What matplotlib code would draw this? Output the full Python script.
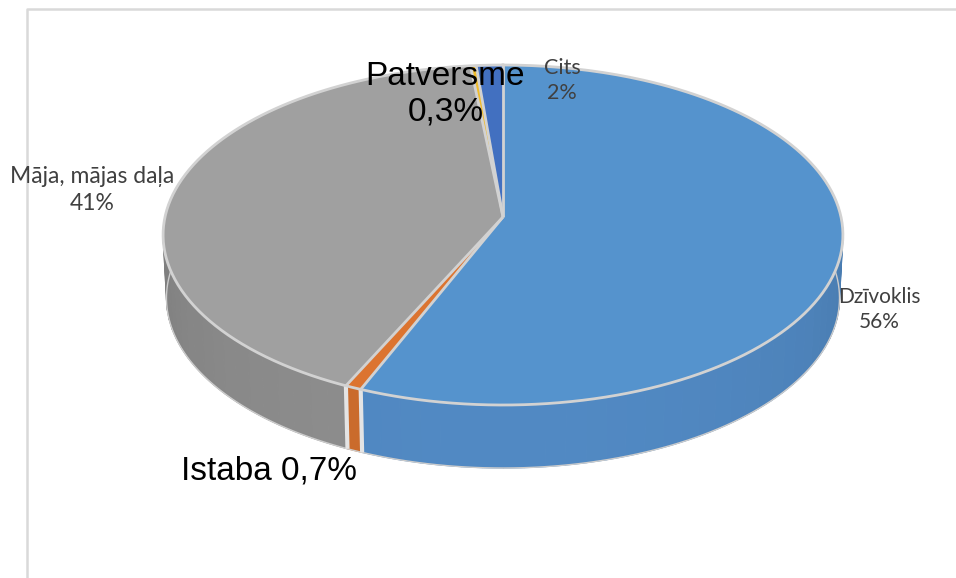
import numpy as np
import matplotlib
matplotlib.use('Agg')
import matplotlib.pyplot as plt
import matplotlib.colors as mcolors

# slices clockwise from 12 o'clock
categories = ['Dzīvoklis', 'Istaba', 'Māja, mājas daļa', 'Patversme', 'Cits']
values = [56.2, 0.7, 41.4, 0.3, 1.4]
top_colors = ['#5593cd', '#dc7430', '#a0a0a0', '#efbb2c', '#4270c0']
wall_colors = ['#5189c3', '#cc6c2c', '#8e8e8e', '#d8a828', '#3c66b0']
label_texts = ['Dzīvoklis\n56%', 'Istaba 0,7%', 'Māja, mājas daļa\n41%', 'Patversme\n0,3%', 'Cits\n2%']

cx, cy = 503, 217
R = 338
A = 168.1
K = -0.1059
DEPTH = 63


def project(theta):
    # circle on the ground plane seen in perspective, theta clockwise from top
    X = np.sin(theta)
    Y = -np.cos(theta)
    d = 1 + K * Y
    return cx + R * X / d, cy + A * Y / d


def project_low(theta):
    x, y = project(theta)
    return cx + (x - cx) * 0.99, y + DEPTH


def shade(color, theta):
    # walls get darker towards the left and right sides
    rgb = np.array(mcolors.to_rgb(color))
    f = 0.89 + 0.11 * abs(np.cos(theta))
    return tuple(np.clip(rgb * f, 0, 1))


fig, ax = plt.subplots(figsize=(9.56, 5.78), dpi=100)
ax.set_position([0, 0, 1, 1])
ax.set_xlim(0, 956)
ax.set_ylim(578, 0)
ax.axis('off')

# chart frame, runs off the right and bottom of the picture
ax.plot([27, 27, 956], [578, 9, 9], color='#d9d9d9', lw=1.8)

fractions = np.cumsum([0] + values) / np.sum(values)
edges = fractions * 2 * np.pi
side = np.radians(84)

# side walls, only the front half shows
for i in range(len(values)):
    a0 = max(edges[i], side)
    a1 = min(edges[i + 1], 2 * np.pi - side)
    if a1 <= a0:
        continue
    n = max(1, int((a1 - a0) / 0.055))
    steps = np.linspace(a0, a1, n + 1)
    for j in range(n):
        t = np.linspace(steps[j], steps[j + 1], 5)
        x1, y1 = project(t)
        x2, y2 = project_low(t[::-1])
        col = shade(wall_colors[i], (steps[j] + steps[j + 1]) / 2)
        ax.fill(np.r_[x1, x2], np.r_[y1, y2], color=col, lw=0.8, zorder=2)
    # lower rim
    t = np.linspace(a0, a1, 80)
    x2, y2 = project_low(t)
    ax.plot(x2, y2, color='#cccccc', lw=1.0, zorder=3)

# outer silhouette of the wall
for a in [side, 2 * np.pi - side]:
    x1, y1 = project(a)
    x2, y2 = project_low(a)
    ax.plot([x1, x2], [y1, y2], color='#cccccc', lw=1.0, zorder=3)

# light bars where the slices meet on the wall
for e in edges[1:3]:
    x1, y1 = project(e)
    x2, y2 = project_low(e)
    ax.plot([x1, x2], [y1, y2], color='#e4e4e4', lw=3.0, zorder=4, solid_capstyle='butt')

# top faces
for i in range(len(values)):
    t = np.linspace(edges[i], edges[i + 1], max(3, int((edges[i + 1] - edges[i]) * 80)))
    x, y = project(t)
    ax.fill(np.r_[cx, x], np.r_[cy, y], facecolor=top_colors[i], edgecolor='none', zorder=5)

t = np.linspace(0, 2 * np.pi, 400)
x, y = project(t)
ax.plot(x, y, color='#d2d2d2', lw=2.0, zorder=6)

for e in edges[:-1]:
    x, y = project(e)
    ax.plot([cx, x], [cy, y], color='#d2d2d2', lw=2.0, zorder=6, solid_capstyle='butt')

# data labels
small = dict(family='Lato', color='#404040', ha='center', va='center', linespacing=1.3, zorder=8)
big = dict(family='Liberation Sans', fontsize=24, color='black', ha='center', va='center', linespacing=1.2, zorder=8)
ax.text(879, 309.5, label_texts[0], fontsize=15, **small)
ax.text(269, 470.5, label_texts[1], **big)
ax.text(92, 190, label_texts[2], fontsize=16.5, **small)
ax.text(445.5, 94.5, label_texts[3], **big)
ax.text(562, 80.5, label_texts[4], fontsize=15.5, **small)

fig.savefig('out.png', dpi=100)
